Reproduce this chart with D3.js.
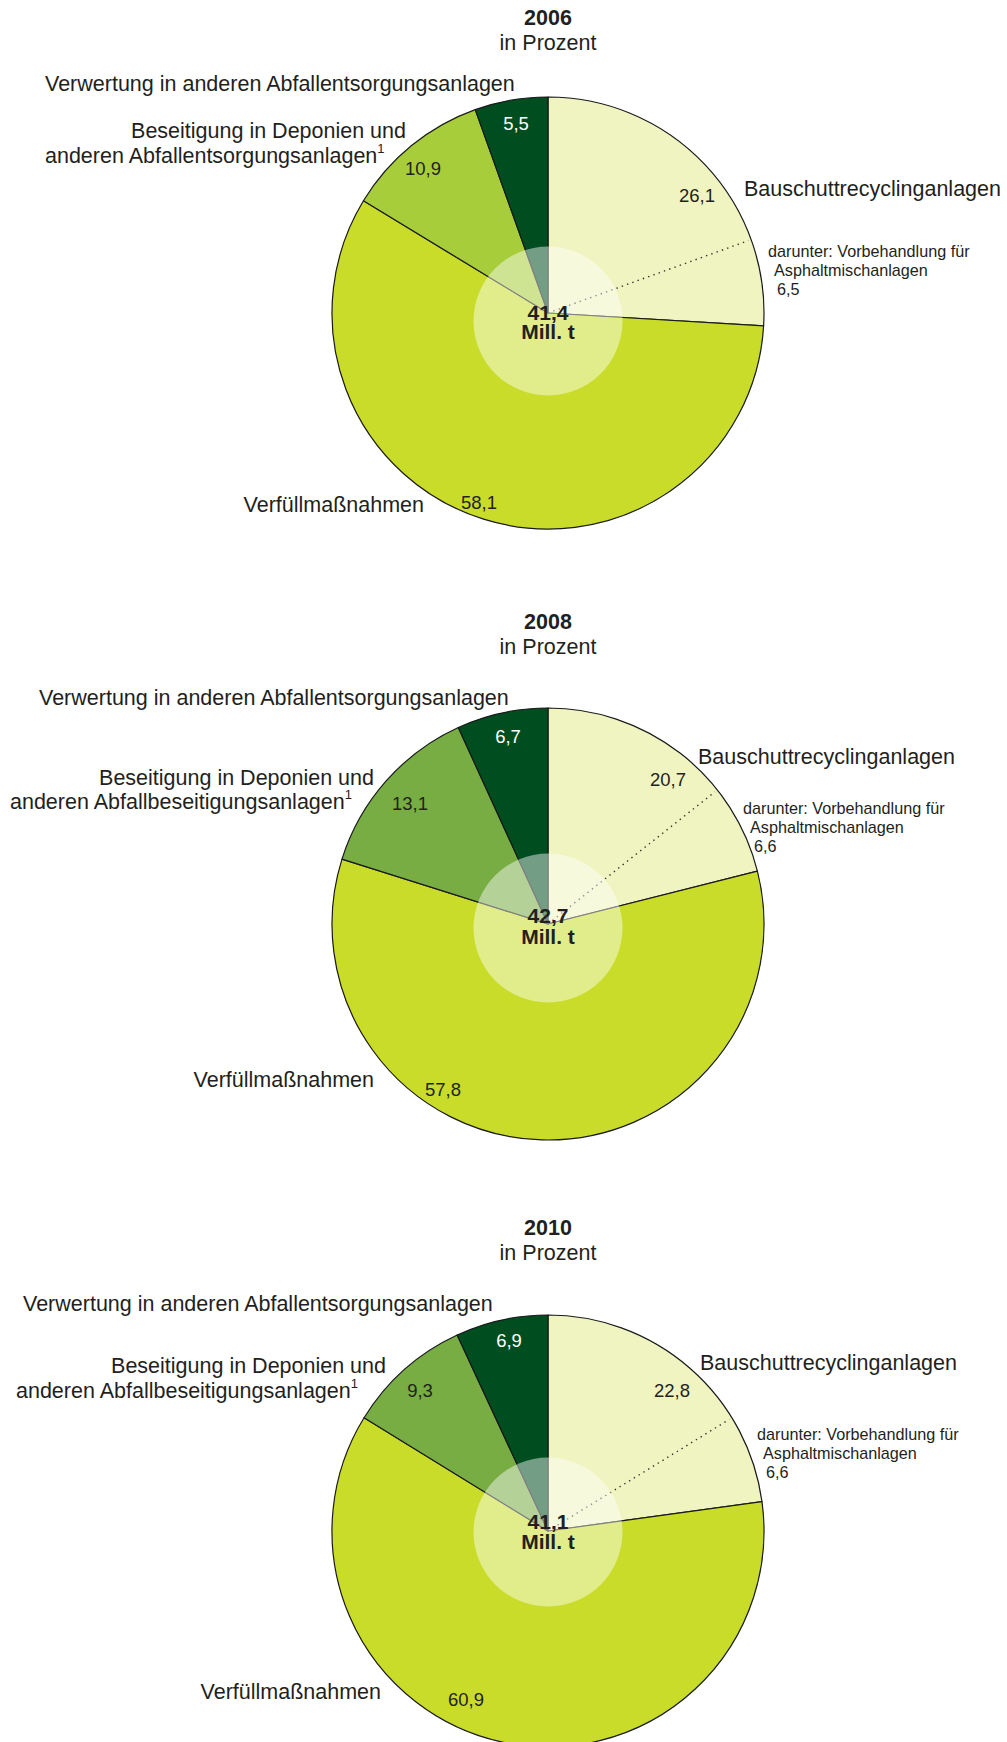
<!DOCTYPE html>
<html>
<head>
<meta charset="utf-8">
<script src="https://cdn.jsdelivr.net/npm/d3@7"></script>
<style>
  body { margin: 0; background: #fff; }
  svg text { font-family: "Liberation Sans", Arial, Helvetica, sans-serif; fill: #231f20; }
</style>
</head>
<body>
<div id="chart"></div>
<script>
// data (percent of total, clockwise from 12 o'clock)
var years = ["2006", "2008", "2010"];
var totals = [41.4, 42.7, 41.1];
var shares_2006 = [26.1, 58.1, 10.9, 5.5];
var shares_2008 = [20.7, 57.8, 13.1, 6.7];
var shares_2010 = [22.8, 60.9, 9.3, 6.9];
var asphalt = [6.5, 6.6, 6.6];   // "darunter: Vorbehandlung für Asphaltmischanlagen"

var cat_recycling = "Bauschuttrecyclinganlagen",
  cat_filling = "Verfüllmaßnahmen",
  cat_disposal_1 = "Beseitigung in Deponien und",
  cat_disposal_2 = ["anderen Abfallentsorgungsanlagen", "anderen Abfallbeseitigungsanlagen", "anderen Abfallbeseitigungsanlagen"],
  cat_other = "Verwertung in anderen Abfallentsorgungsanlagen",
  sub_1 = "darunter: Vorbehandlung für",
  sub_2 = "Asphaltmischanlagen";

var colors = [
  ["#f0f4c1", "#c9dc2a", "#a7ce3a", "#004d20"],
  ["#f0f4c1", "#c9dc2a", "#77ad43", "#004d20"],
  ["#f0f4c1", "#c9dc2a", "#77ad43", "#004d20"]
];

// layout of each panel (text anchors are hand placed like in the print original)
var layout = [
  { cy: 313, hole: 8, title: 25, sub: 50,
    other: [45, 91], dis1: [406, 138], dis2: [45, 163], filling: [424, 512],
    recycling: [744, 196], darunter: [768, 257], asph: [774, 275.5], asphv: [777, 294.5],
    total: 319.5, mill: 339,
    nums: [[697, 202], [479, 509], [423, 175], [516, 130]] },
  { cy: 924, hole: 4, title: 629, sub: 654,
    other: [39, 705], dis1: [374, 785], dis2: [10, 809], filling: [374, 1087],
    recycling: [698, 763.5], darunter: [743, 813.5], asph: [750, 832.5], asphv: [754, 852],
    total: 923, mill: 944,
    nums: [[668, 786], [443, 1096], [410, 810], [508, 743]] },
  { cy: 1531, hole: 1, title: 1235, sub: 1260,
    other: [23, 1310.5], dis1: [386, 1373], dis2: [16, 1398], filling: [381, 1698.5],
    recycling: [700, 1370], darunter: [757, 1440], asph: [763, 1459], asphv: [766, 1478],
    total: 1528.5, mill: 1549,
    nums: [[672, 1397], [466, 1706], [420, 1397], [509, 1347]] }
];

var width = 1007, height = 1742,
  cx = 548, radius = 216, hole_radius = 74.5;

var de = d3.formatLocale({decimal: ",", thousands: ".", grouping: [3], currency: ["", " €"]}),
  fmt = de.format(".1f");

var svg = d3.select("#chart").append("svg")
    .attr("width", width)
    .attr("height", height);

var pie = d3.pie()
    .sort(null)
    .value(function(d){ return d; });

var arc = d3.arc()
    .innerRadius(0)
    .outerRadius(radius);

var all_shares = [shares_2006, shares_2008, shares_2010];

all_shares.forEach(function(shares, i){
  drawPanel(i, shares, layout[i]);
});

function drawPanel(i, shares, lay){

  var g = svg.append("g");

  // title
  g.append("text")
      .attr("x", cx).attr("y", lay.title)
      .attr("text-anchor", "middle")
      .attr("font-size", 21.5)
      .attr("font-weight", "bold")
      .text(years[i]);
  g.append("text")
      .attr("x", cx).attr("y", lay.sub)
      .attr("text-anchor", "middle")
      .attr("font-size", 21.5)
      .text("in Prozent");

  var pg = g.append("g")
      .attr("transform", "translate(" + cx + "," + lay.cy + ")");

  pg.selectAll(".slice")
      .data(pie(shares))
    .enter().append("path")
      .attr("class", "slice")
      .attr("d", arc)
      .attr("fill", function(d, j){ return colors[i][j]; })
      .attr("stroke", "#1a1a1a")
      .attr("stroke-width", 1.2)
      .attr("stroke-linejoin", "round");

  // dotted split inside the recycling slice
  var angle = d3.scaleLinear()
      .domain([0, d3.sum(shares)])
      .range([0, 2 * Math.PI]);
  var p = d3.pointRadial(angle(shares[0] - asphalt[i]), radius - 3);
  pg.append("line")
      .attr("x1", 0).attr("y1", 0)
      .attr("x2", p[0]).attr("y2", p[1])
      .attr("stroke", "#333")
      .attr("stroke-width", 1.4)
      .attr("stroke-dasharray", "1.4,4.2");

  // translucent centre disc
  pg.append("circle")
      .attr("cx", 0).attr("cy", lay.hole)
      .attr("r", hole_radius)
      .attr("fill", "#fff")
      .attr("fill-opacity", 0.45);

  // values in the slices
  g.selectAll(".num")
      .data(shares)
    .enter().append("text")
      .attr("class", "num")
      .attr("x", function(d, j){ return lay.nums[j][0]; })
      .attr("y", function(d, j){ return lay.nums[j][1]; })
      .attr("text-anchor", "middle")
      .attr("font-size", 18.5)
      .style("fill", function(d, j){ return j == 3 ? "#fff" : "#231f20"; })
      .text(fmt);

  // total
  g.append("text")
      .attr("x", cx).attr("y", lay.total)
      .attr("text-anchor", "middle")
      .attr("font-size", 21)
      .attr("font-weight", "bold")
      .text(fmt(totals[i]));
  g.append("text")
      .attr("x", cx).attr("y", lay.mill)
      .attr("text-anchor", "middle")
      .attr("font-size", 21)
      .attr("font-weight", "bold")
      .text("Mill. t");

  // category labels
  label(g, lay.other, "start", 21.5, cat_other);
  label(g, lay.dis1, "end", 21.5, cat_disposal_1);
  var d2 = label(g, lay.dis2, "start", 21.5, cat_disposal_2[i]);
  d2.append("tspan")
      .attr("dy", -10)
      .attr("font-size", 13)
      .text("1");
  label(g, lay.filling, "end", 21.5, cat_filling);
  label(g, lay.recycling, "start", 21.5, cat_recycling);
  label(g, lay.darunter, "start", 16.2, sub_1);
  label(g, lay.asph, "start", 16.2, sub_2);
  label(g, lay.asphv, "start", 16.2, fmt(asphalt[i]));
}

function label(g, pos, anchor, size, txt){
  return g.append("text")
      .attr("x", pos[0]).attr("y", pos[1])
      .attr("text-anchor", anchor)
      .attr("font-size", size)
      .text(txt);
}
</script>
</body>
</html>
